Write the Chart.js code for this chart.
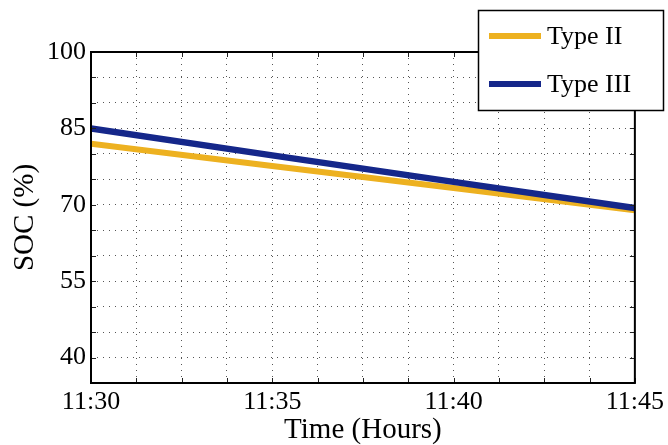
<!DOCTYPE html>
<html lang="en">
<head>
    <meta charset="UTF-8">
    <title>SOC vs Time</title>
    <script src="https://cdn.jsdelivr.net/npm/chart.js"></script>
    <style>
        body {
            margin: 0;
            background-color: #ffffff;
        }
        canvas {
            display: block;
        }
    </style>
</head>
<body>
    <canvas id="chartCanvas" width="668" height="445"></canvas>
    <script>
        // Minutes after 11:30
        const minutes = [0, 5, 10, 15];
        const typeII = [82.0, 77.6, 73.3, 68.9];
        const typeIII = [85.0, 79.7, 74.5, 69.35];
        const seriesNames = ["Type II", "Type III"];
        const xTickLabels = ["11:30", "11:35", "11:40", "11:45"];
        const yTickLabels = [40, 55, 70, 85, 100];

        const serif = "'Liberation Serif', 'Times New Roman', serif";

        function toPoints(values) {
            return minutes.map((m, i) => ({ x: m, y: values[i] }));
        }

        // Box, inward ticks and legend like the MATLAB figure
        const frameAndLegend = {
            id: 'frameAndLegend',
            afterDraw: (chart) => {
                const ctx = chart.ctx;
                const area = chart.chartArea;
                const xs = chart.scales.x;
                const ys = chart.scales.y;
                ctx.save();

                // inward ticks
                ctx.strokeStyle = '#222';
                ctx.lineWidth = 1;
                ctx.beginPath();
                xs.ticks.forEach(t => {
                    const px = Math.round(xs.getPixelForValue(t.value)) + 0.5;
                    ctx.moveTo(px, area.bottom);
                    ctx.lineTo(px, area.bottom - 5);
                    ctx.moveTo(px, area.top);
                    ctx.lineTo(px, area.top + 5);
                });
                ys.ticks.forEach(t => {
                    const py = Math.round(ys.getPixelForValue(t.value)) + 0.5;
                    ctx.moveTo(area.left, py);
                    ctx.lineTo(area.left + 5, py);
                    ctx.moveTo(area.right, py);
                    ctx.lineTo(area.right - 5, py);
                });
                ctx.stroke();

                // box
                ctx.strokeStyle = '#000';
                ctx.lineWidth = 2;
                ctx.strokeRect(area.left, area.top, area.right - area.left, area.bottom - area.top);

                // legend
                const box = { x: 478.5, y: 10.5, w: 185, h: 100 };
                ctx.fillStyle = '#fff';
                ctx.fillRect(box.x, box.y, box.w, box.h);
                ctx.lineWidth = 1.5;
                ctx.strokeRect(box.x, box.y, box.w, box.h);

                ctx.font = '26px ' + serif;
                ctx.textBaseline = 'middle';
                ctx.textAlign = 'left';
                const rows = [chart.data.datasets[0], chart.data.datasets[1]];
                rows.forEach((ds, i) => {
                    const y = 36 + i * 48;
                    ctx.strokeStyle = ds.borderColor;
                    ctx.lineWidth = 6;
                    ctx.beginPath();
                    ctx.moveTo(489, y);
                    ctx.lineTo(541, y);
                    ctx.stroke();
                    ctx.fillStyle = '#000';
                    ctx.fillText(ds.label, 547, y + 1);
                });
                ctx.restore();
            }
        };

        const ctx = document.getElementById("chartCanvas").getContext("2d");
        const chart = new Chart(ctx, {
            type: "line",
            data: {
                datasets: [
                    {
                        label: seriesNames[0],
                        data: toPoints(typeII),
                        borderColor: "#EDB120",
                        borderWidth: 6,
                        pointRadius: 0,
                        tension: 0,
                        order: 2
                    },
                    {
                        label: seriesNames[1],
                        data: toPoints(typeIII),
                        borderColor: "#15278A",
                        borderWidth: 6.5,
                        pointRadius: 0,
                        tension: 0,
                        order: 1
                    }
                ]
            },
            options: {
                responsive: false,
                animation: false,
                layout: {
                    padding: { left: 0, top: 52, right: 32, bottom: 0 }
                },
                plugins: {
                    legend: { display: false },
                    tooltip: { enabled: false }
                },
                scales: {
                    x: {
                        type: "linear",
                        min: 0,
                        max: 15,
                        afterFit: (scale) => { scale.height = 62; },
                        border: { display: false, dash: [1, 5] },
                        grid: {
                            color: "#555",
                            lineWidth: 1,
                            drawTicks: false
                        },
                        ticks: {
                            stepSize: 1.25,
                            autoSkip: false,
                            maxRotation: 0,
                            padding: 4,
                            color: "#000",
                            font: { family: serif, size: 26 },
                            callback: (v) => {
                                const i = minutes.indexOf(v);
                                return i >= 0 ? xTickLabels[i] : "";
                            }
                        },
                        title: {
                            display: true,
                            text: "Time (Hours)",
                            color: "#000",
                            font: { family: serif, size: 29, lineHeight: 1 },
                            padding: { top: 0, bottom: 0 }
                        }
                    },
                    y: {
                        min: 35,
                        max: 100,
                        afterFit: (scale) => { scale.width = 91; },
                        border: { display: false, dash: [1, 5] },
                        grid: {
                            color: "#555",
                            lineWidth: 1,
                            drawTicks: false
                        },
                        ticks: {
                            stepSize: 5,
                            autoSkip: false,
                            padding: 5,
                            color: "#000",
                            font: { family: serif, size: 26 },
                            callback: (v) => yTickLabels.includes(v) ? String(v) : ""
                        },
                        title: {
                            display: true,
                            text: "SOC (%)",
                            color: "#000",
                            font: { family: serif, size: 29, lineHeight: 1 },
                            padding: { top: 11, bottom: 0 }
                        }
                    }
                }
            },
            plugins: [frameAndLegend]
        });
    </script>
</body>
</html>
